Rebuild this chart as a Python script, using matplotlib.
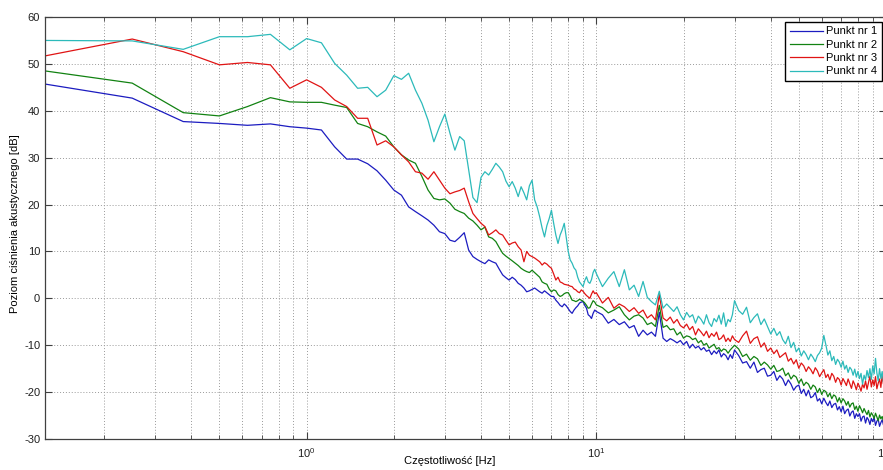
import numpy as np
import matplotlib.pyplot as plt
from matplotlib.ticker import LogLocator, NullFormatter, MultipleLocator

plt.rcParams['font.family'] = ['Liberation Sans', 'DejaVu Sans']
plt.rcParams['axes.unicode_minus'] = False

# frequency bins [Hz]: fine below 10 Hz, coarser above
freq = np.concatenate([np.arange(1, 81) * 0.125,
                       np.arange(21, 61) * 0.5,
                       np.arange(31, 101) * 1.0])

labels = ['Punkt nr 1', 'Punkt nr 2', 'Punkt nr 3', 'Punkt nr 4']
colors = ['#1c1cc0', '#128212', '#e01414', '#2cbaba']

# Punkt nr 1
p1_low = [45.7, 42.7, 37.7, 37.3, 36.9, 37.2, 36.6, 36.3,
          35.9, 32.3, 29.7, 29.7, 28.7, 27.2, 25.2, 23.1,
          22.0, 19.5, 18.5, 17.6, 16.7, 15.6, 14.2, 13.8,
          12.4, 12.1, 13.0, 14.0, 10.3, 8.9, 8.3, 7.8,
          7.4, 8.2, 7.8, 7.5, 6.2, 5.0, 4.4, 3.9,
          4.5, 4.0, 3.2, 2.8, 2.2, 1.4, 1.6, 1.9,
          2.2, 1.8, 1.4, 1.1, 1.6, 1.2, 0.8, 0.4,
          0.4, -0.4, -0.9, -1.5, -1.8, -1.2, -1.6, -2.2,
          -2.8, -3.2, -2.5, -2.0, -1.6, -1.0, -0.8, -0.7,
          -1.5, -2.1, -3.5, -3.8, -4.3, -3.2, -2.5, -2.8]
p1_mid = [-3.5, -5.3, -4.5, -5.6, -5.0, -6.3, -5.8, -8.1, -6.8, -7.8,
          -7.2, -8.1, -3.0, -8.5, -9.2, -8.6, -9.0, -9.5, -9.0, -9.9,
          -9.2, -10.6, -9.8, -10.6, -10.2, -11.0, -10.5, -11.3, -11.0, -12.0,
          -11.2, -11.8, -11.0, -12.5, -11.8, -12.2, -13.1, -12.0, -12.8, -11.0]
p1_high = [-12.2, -13.8, -13.5, -14.9, -13.6, -15.8, -15.2, -14.9, -16.6, -16.4,
           -15.6, -17.5, -16.5, -17.2, -18.6, -17.4, -18.3, -19.6, -18.8, -18.5,
           -20.3, -19.4, -20.8, -19.6, -21.2, -20.9, -20.1, -21.9, -21.4, -22.5,
           -21.3, -22.2, -22.9, -21.9, -23.3, -22.6, -22.4, -23.8, -23.1, -24.2,
           -23.0, -24.6, -23.9, -23.6, -25.1, -24.3, -24.0, -25.6, -24.6, -25.2,
           -24.6, -26.2, -25.3, -25.1, -26.6, -25.4, -25.9, -26.9, -25.6, -26.3,
           -25.4, -27.1, -26.2, -25.8, -27.3, -26.5, -25.9, -27.0, -26.1, -26.6]

# Punkt nr 2
p2_low = [48.5, 45.9, 39.6, 38.9, 40.9, 42.8, 41.9, 41.8,
          41.8, 41.2, 40.7, 37.3, 36.6, 35.5, 34.6, 32.3,
          30.6, 29.5, 28.8, 26.0, 23.1, 21.3, 21.0, 21.2,
          20.3, 19.0, 18.5, 18.1, 17.1, 16.5, 15.6, 14.6,
          15.2, 13.1, 12.8, 12.1, 10.8, 9.6, 9.0, 8.5,
          8.0, 7.5, 7.0, 6.4, 6.0, 5.7, 5.5, 6.0,
          5.5, 5.0, 4.5, 3.5, 3.2, 3.0, 2.0, 1.4,
          1.8, 1.6, 0.8, 0.4, 0.6, 1.0, 1.2, 1.2,
          0.5, -0.4, -0.5, -0.7, -0.5, -0.2, -0.4, -0.6,
          -1.0, -1.5, -2.1, -2.0, -1.2, -0.5, -0.8, -1.4]
p2_mid = [-2.0, -3.1, -2.5, -1.8, -3.5, -4.6, -3.8, -3.5, -4.2, -5.6,
          -5.2, -6.0, -1.5, -6.2, -5.8, -6.7, -6.5, -7.8, -7.2, -8.5,
          -8.0, -8.2, -8.8, -8.5, -9.5, -9.0, -10.0, -9.6, -10.6, -10.2,
          -9.8, -10.8, -10.5, -11.3, -10.8, -11.0, -11.7, -11.0, -10.5, -10.0]
p2_high = [-10.8, -12.4, -11.9, -13.2, -12.4, -12.9, -14.3, -13.6, -14.2, -15.1,
           -14.3, -15.6, -15.4, -14.9, -16.5, -15.9, -17.2, -16.4, -16.8, -18.1,
           -17.2, -18.6, -17.9, -18.3, -19.4, -18.5, -18.9, -20.1, -19.2, -20.5,
           -19.6, -19.9, -21.0, -20.2, -21.4, -20.6, -20.9, -22.1, -21.2, -22.3,
           -21.4, -21.9, -22.8, -22.0, -23.2, -22.5, -22.3, -23.7, -23.0, -24.1,
           -22.9, -23.6, -24.4, -23.5, -24.2, -24.8, -23.9, -25.3, -24.4, -24.9,
           -25.6, -24.5, -25.3, -26.1, -24.9, -25.7, -25.2, -26.2, -24.8, -25.5]

# Punkt nr 3
p3_low = [51.7, 55.3, 52.6, 49.8, 50.3, 49.8, 44.8, 46.6,
          45.0, 42.3, 40.9, 38.4, 38.4, 32.7, 33.6, 32.3,
          30.6, 29.1, 27.0, 26.7, 25.4, 27.0, 25.2, 23.5,
          22.3, 22.7, 23.0, 23.5, 20.6, 18.1, 17.0, 16.0,
          15.3, 13.5, 14.0, 14.6, 13.8, 13.5, 12.4, 11.4,
          11.8, 12.0, 11.0, 10.3, 7.8, 10.0, 9.2, 8.9,
          8.6, 8.2, 7.8, 7.1, 7.6, 7.3, 6.8, 6.4,
          5.2, 3.9, 4.5, 3.5, 3.3, 3.0, 2.9, 2.8,
          2.6, 2.5, 2.0, 1.8, 1.4, 1.2, 1.8, 1.5,
          1.0, 0.6, 0.3, 0.0, 0.9, 1.6, 1.0, 1.2]
p3_mid = [-1.0, 0.2, -2.1, -1.2, -1.8, -2.8, -2.0, -3.2, -2.5, -4.2,
          -3.5, -4.6, 0.8, -4.2, -4.8, -4.0, -5.3, -4.5, -5.8, -6.3,
          -5.5, -6.7, -6.0, -7.8, -6.5, -7.2, -8.0, -7.0, -8.4, -7.5,
          -8.1, -7.2, -8.8, -8.5, -7.8, -9.2, -8.5, -9.2, -8.0, -8.8]
p3_high = [-9.4, -8.0, -7.0, -9.6, -8.6, -8.2, -10.4, -9.5, -11.3, -10.6,
           -11.8, -11.0, -12.6, -12.1, -11.6, -13.4, -12.8, -14.0, -13.1, -14.9,
           -13.8, -14.4, -15.6, -14.6, -15.2, -16.1, -14.8, -15.5, -16.7, -15.9,
           -15.2, -16.9, -16.2, -17.4, -16.0, -16.6, -17.9, -16.9, -17.3, -18.5,
           -17.1, -17.8, -18.6, -17.2, -18.2, -19.2, -17.6, -18.4, -19.5, -18.1,
           -18.8, -19.8, -18.3, -19.1, -17.6, -19.4, -18.0, -16.6, -18.9, -17.4,
           -18.6, -16.7, -19.3, -18.1, -17.2, -19.0, -16.4, -18.3, -17.0, -18.2]

# Punkt nr 4
p4_low = [55.0, 54.9, 53.1, 55.8, 55.8, 56.3, 53.0, 55.4,
          54.5, 50.1, 47.6, 44.8, 45.0, 43.0, 44.4, 47.5,
          46.7, 48.0, 44.4, 41.6, 38.0, 33.4, 36.6, 39.3,
          35.2, 31.6, 34.5, 33.6, 27.4, 21.5, 20.4, 25.8,
          27.0, 26.3, 27.5, 28.8, 28.0, 27.0, 25.0, 23.8,
          24.9, 23.5, 21.7, 23.8, 22.5, 21.0, 24.0, 25.2,
          21.0, 19.5, 17.4, 15.0, 13.1, 15.5, 17.0, 18.8,
          16.0, 13.5, 11.7, 13.5, 14.6, 16.0, 13.0, 10.0,
          8.2, 7.5, 6.5, 6.0, 4.5, 3.5, 3.0, 2.5,
          3.8, 4.6, 3.5, 3.2, 4.0, 5.5, 6.2, 5.3]
p4_mid = [2.5, 4.3, 5.7, 2.5, 6.1, 1.8, 2.8, 0.4, 3.6, 0.2,
          -0.7, -1.4, 1.5, -2.1, -1.2, -2.0, -2.8, -1.8, -3.5, -4.6,
          -3.0, -4.0, -3.5, -5.3, -3.8, -4.5, -5.5, -3.5, -5.2, -6.0,
          -4.3, -5.0, -3.6, -5.5, -3.1, -6.0, -4.5, -5.0, -3.5, -0.5]
p4_high = [-2.6, -3.4, -1.9, -5.2, -4.1, -3.3, -5.6, -4.4, -6.0, -7.6,
           -6.4, -7.9, -7.1, -8.8, -9.7, -8.1, -10.5, -9.4, -11.4, -10.6,
           -12.3, -11.2, -12.0, -13.1, -11.9, -12.6, -13.5, -12.2, -11.6, -10.6,
           -7.9, -9.9, -12.1, -11.2, -13.3, -12.4, -14.1, -13.0, -13.6, -14.7,
           -13.4, -15.1, -14.3, -15.8, -14.7, -15.2, -16.4, -15.1, -16.8, -15.6,
           -17.1, -16.0, -18.3, -16.4, -17.4, -15.4, -16.9, -15.0, -17.3, -14.4,
           -16.1, -12.8, -15.9, -17.6, -15.0, -17.1, -15.6, -17.9, -15.9, -17.0]

series = [p1_low + p1_mid + p1_high,
          p2_low + p2_mid + p2_high,
          p3_low + p3_mid + p3_high,
          p4_low + p4_mid + p4_high]

fig = plt.figure(figsize=(8.83, 4.70), dpi=100)
ax = fig.add_axes([45 / 883, 31 / 470, 841 / 883, 422 / 470])

for y, lab, c in zip(series, labels, colors):
    ax.plot(freq, y, color=c, lw=0.9, label=lab)

ax.set_xscale('log')
ax.set_xlim(0.125, 100)
ax.set_ylim(-30, 60)
ax.yaxis.set_major_locator(MultipleLocator(10))
ax.xaxis.set_major_locator(LogLocator(base=10))
ax.xaxis.set_minor_locator(LogLocator(base=10, subs=np.arange(2, 10)))
ax.xaxis.set_minor_formatter(NullFormatter())

ax.grid(True, which='major', ls=(0, (1, 2)), color='#9a9a9a', lw=0.7)
ax.grid(True, which='minor', axis='x', ls=(0, (1, 2)), color='#9a9a9a', lw=0.7)

ax.tick_params(which='both', direction='in', top=True, right=True,
               labelsize=8, color='#404040', labelcolor='#202020')
ax.tick_params(which='major', length=5, width=0.8)
ax.tick_params(which='minor', length=3, width=0.6)
ax.tick_params(axis='x', pad=5)
for s in ax.spines.values():
    s.set_color('#404040')
    s.set_linewidth(0.9)

ax.set_xlabel('Częstotliwość [Hz]', fontsize=8)
ax.xaxis.set_label_coords(0.4816, -0.040)
ax.set_ylabel('Poziom ciśnienia akustycznego [dB]', fontsize=8)
ax.yaxis.set_label_coords(-0.030, 0.51)

ax.legend(loc='upper right', bbox_to_anchor=(882 / 883, 1 - 22 / 470),
          bbox_transform=fig.transFigure, borderaxespad=0, fancybox=False,
          edgecolor='black', framealpha=1, fontsize=8, handlelength=3,
          labelspacing=0.3, borderpad=0.4, handletextpad=0.3)

fig.savefig('out.png', dpi=100)
